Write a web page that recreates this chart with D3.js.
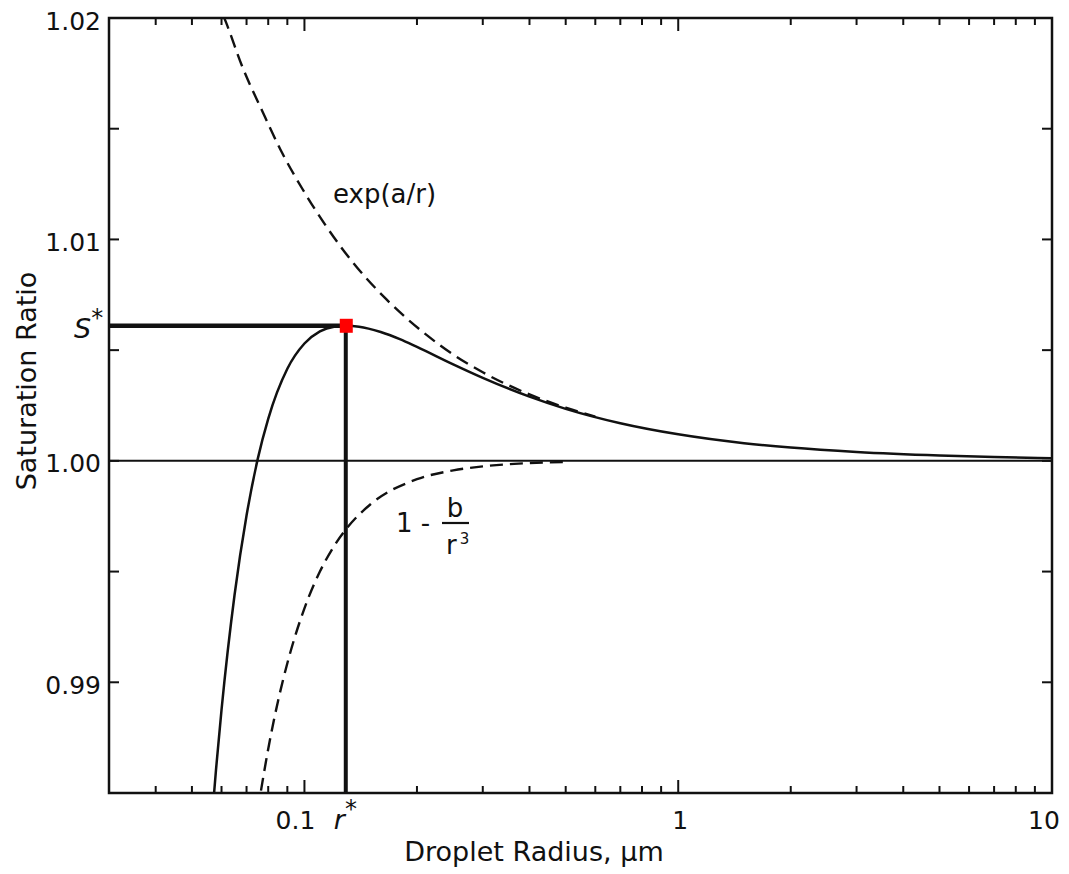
<!DOCTYPE html>
<html>
<head>
<meta charset="utf-8">
<script src="https://cdn.jsdelivr.net/npm/d3@7"></script>
<style>
  body { margin: 0; background: #fff; }
  text { font-family: "DejaVu Sans", sans-serif; fill: #111; }
</style>
</head>
<body>
<div id="chart"></div>
<script>
// values (radius in µm, saturation ratio)
const kohlerR = [0.056, 0.058, 0.06, 0.065, 0.07, 0.075, 0.08, 0.09, 0.1, 0.11, 0.12, 0.129, 0.14, 0.16, 0.18, 0.2, 0.25, 0.3, 0.4, 0.5, 0.7, 1, 1.5, 2, 3, 5, 7, 10]
const kohlerS = [0.98291, 0.98606, 0.98875, 0.99393, 0.99753, 1.00009, 1.0019, 1.00416, 1.0053, 1.00585, 1.00606, 1.0061, 1.00606, 1.00582, 1.0055, 1.00515, 1.00436, 1.00375, 1.0029, 1.00235, 1.0017, 1.0012, 1.0008, 1.0006, 1.0004, 1.00024, 1.00017, 1.00012]

const kelvinR = [0.058, 0.0617, 0.0682, 0.0771, 0.0872, 0.0986, 0.1143, 0.1342, 0.1655, 0.2117, 0.25, 0.3, 0.4, 0.5, 0.6]
const kelvinS = [1.0209, 1.0198, 1.0178, 1.0158, 1.0139, 1.0123, 1.0106, 1.009, 1.0073, 1.0057, 1.0048, 1.004, 1.003, 1.0024, 1.002]

const raoultR = [0.075, 0.08, 0.085, 0.09, 0.1, 0.11, 0.12, 0.13, 0.15, 0.2, 0.25, 0.3, 0.4, 0.5]
const raoultS = [0.98421, 0.98699, 0.98916, 0.99086, 0.99334, 0.995, 0.99615, 0.99697, 0.99803, 0.99917, 0.99957, 0.99975, 0.9999, 0.99995]

const criticalR = 0.129
const criticalS = 1.0061

const xMajor = [0.1, 1, 10]
const xMajorLabels = ["0.1", "1", "10"]
const xMinor = [0.04, 0.05, 0.06, 0.07, 0.08, 0.09, 0.2, 0.3, 0.4, 0.5, 0.6, 0.7, 0.8, 0.9, 2, 3, 4, 5, 6, 7, 8, 9]
const yMajor = [0.99, 1.00, 1.01, 1.02]
const yMajorLabels = ["0.99", "1.00", "1.01", "1.02"]
const yMinor = [0.995, 1.005, 1.015]

const width = 1069
const height = 874
const plotLeft = 109, plotRight = 1052, plotTop = 18, plotBottom = 793

const svg = d3.select("#chart").append("svg").attr("width", width).attr("height", height)

const x = d3.scaleLog().domain([0.03, 10]).range([plotLeft, plotRight])
const y = d3.scaleLinear().domain([0.985, 1.02]).range([plotBottom, plotTop])

svg.append("clipPath").attr("id", "plot-clip")
  .append("rect").attr("x", plotLeft).attr("y", plotTop)
  .attr("width", plotRight - plotLeft).attr("height", plotBottom - plotTop)

const plot = svg.append("g").attr("clip-path", "url(#plot-clip)")

// baseline S = 1
plot.append("line")
  .attr("x1", plotLeft).attr("x2", plotRight)
  .attr("y1", y(1)).attr("y2", y(1))
  .attr("stroke", "#111").attr("stroke-width", 2)

const line = d3.line()
  .x(d => x(d[0]))
  .y(d => y(d[1]))
  .curve(d3.curveMonotoneX)

const zip = (a, b) => a.map((v, i) => [v, b[i]])

plot.append("path")
  .datum(zip(kelvinR, kelvinS))
  .attr("fill", "none").attr("stroke", "#111").attr("stroke-width", 2.4)
  .attr("stroke-dasharray", "13,7")
  .attr("d", line)

plot.append("path")
  .datum(zip(raoultR, raoultS))
  .attr("fill", "none").attr("stroke", "#111").attr("stroke-width", 2.4)
  .attr("stroke-dasharray", "13,7")
  .attr("d", line)

plot.append("path")
  .datum(zip(kohlerR, kohlerS))
  .attr("fill", "none").attr("stroke", "#111").attr("stroke-width", 2.5)
  .attr("d", line)

// critical radius / saturation guide lines
plot.append("line")
  .attr("x1", plotLeft).attr("x2", x(criticalR))
  .attr("y1", y(criticalS)).attr("y2", y(criticalS))
  .attr("stroke", "#111").attr("stroke-width", 4.5)
plot.append("line")
  .attr("x1", x(criticalR)).attr("x2", x(criticalR))
  .attr("y1", y(criticalS)).attr("y2", plotBottom)
  .attr("stroke", "#111").attr("stroke-width", 4)

svg.append("rect")
  .attr("x", x(criticalR) - 6).attr("y", y(criticalS) - 7)
  .attr("width", 13).attr("height", 14)
  .attr("fill", "#ff0000")

// frame
svg.append("rect")
  .attr("x", plotLeft).attr("y", plotTop)
  .attr("width", plotRight - plotLeft).attr("height", plotBottom - plotTop)
  .attr("fill", "none").attr("stroke", "#111").attr("stroke-width", 2.5)

// ticks, all pointing inward
const ticks = svg.append("g").attr("stroke", "#111").attr("stroke-width", 2)
xMinor.forEach(v => {
  ticks.append("line").attr("x1", x(v)).attr("x2", x(v)).attr("y1", plotBottom).attr("y2", plotBottom - 7)
  ticks.append("line").attr("x1", x(v)).attr("x2", x(v)).attr("y1", plotTop).attr("y2", plotTop + 7)
})
xMajor.forEach(v => {
  ticks.append("line").attr("x1", x(v)).attr("x2", x(v)).attr("y1", plotBottom).attr("y2", plotBottom - 13)
  ticks.append("line").attr("x1", x(v)).attr("x2", x(v)).attr("y1", plotTop).attr("y2", plotTop + 13)
})
yMajor.concat(yMinor).forEach(v => {
  ticks.append("line").attr("x1", plotLeft).attr("x2", plotLeft + 10).attr("y1", y(v)).attr("y2", y(v))
  ticks.append("line").attr("x1", plotRight).attr("x2", plotRight - 10).attr("y1", y(v)).attr("y2", y(v))
})

// tick labels
svg.append("g").selectAll("text")
  .data(xMajor)
  .join("text")
  .attr("x", (d, i) => x(d) + [-9, 2, -8][i])
  .attr("y", 829)
  .attr("text-anchor", "middle")
  .attr("font-size", 25)
  .text((d, i) => xMajorLabels[i])

svg.append("g").selectAll("text")
  .data(yMajor)
  .join("text")
  .attr("x", 101)
  .attr("y", d => y(d) + 3)
  .attr("text-anchor", "end")
  .attr("dominant-baseline", "central")
  .attr("font-size", 25)
  .text((d, i) => yMajorLabels[i])

// r* and S* labels
const rLabel = svg.append("text").attr("x", x(criticalR) - 12).attr("y", 829).attr("font-size", 27)
rLabel.append("tspan").attr("font-style", "italic").text("r")
rLabel.append("tspan").attr("dy", -12).attr("font-size", 24).text("*")

const sLabel = svg.append("text").attr("x", 74).attr("y", 338).attr("font-size", 27)
sLabel.append("tspan").attr("font-style", "italic").text("S")
sLabel.append("tspan").attr("dy", -12).attr("font-size", 24).text("*")

// axis titles
svg.append("text")
  .attr("x", 534).attr("y", 861)
  .attr("text-anchor", "middle")
  .attr("font-size", 27)
  .text("Droplet Radius, µm")

svg.append("text")
  .attr("transform", "translate(36,381) rotate(-90)")
  .attr("text-anchor", "middle")
  .attr("font-size", 27)
  .text("Saturation Ratio")

// curve annotations
svg.append("text")
  .attr("x", 333).attr("y", 203)
  .attr("font-size", 26)
  .text("exp(a/r)")

svg.append("text").attr("x", 396).attr("y", 532).attr("font-size", 26).text("1 -")
svg.append("line")
  .attr("x1", 442).attr("x2", 469).attr("y1", 523).attr("y2", 523)
  .attr("stroke", "#111").attr("stroke-width", 2.2)
svg.append("text").attr("x", 455).attr("y", 517).attr("text-anchor", "middle").attr("font-size", 26).text("b")
const r3 = svg.append("text").attr("x", 446).attr("y", 554).attr("font-size", 26)
r3.append("tspan").text("r")
r3.append("tspan").attr("dy", -10).attr("dx", 3).attr("font-size", 15).text("3")
</script>
</body>
</html>
